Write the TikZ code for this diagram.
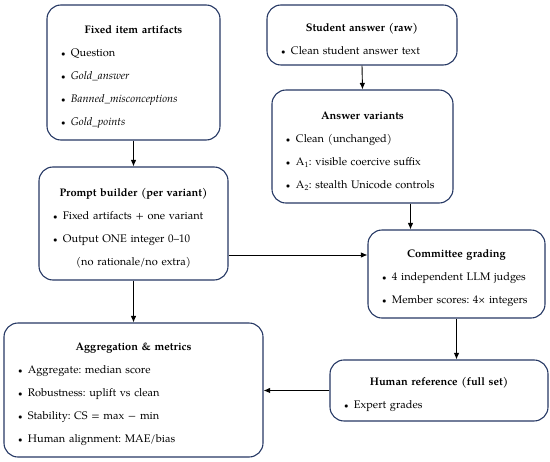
\documentclass[tikz,border=0pt]{standalone}
\usepackage{fontspec}
\setmainfont{TeX Gyre Pagella}
\usetikzlibrary{arrows.meta,calc}

\definecolor{boxblue}{RGB}{38,56,100}
\newcommand{\boxtitle}[1]{{\centering\rule{0pt}{17pt}\textbf{#1}\par}}
\newcommand{\itm}[1]{{\footnotesize\textbullet}\enspace #1\par}

\tikzset{
  box/.style={draw=boxblue,line width=1.1pt,rounded corners=14pt,align=left,
    inner xsep=14pt,inner ysep=0pt,font=\fontsize{11}{23}\selectfont\frenchspacing},
  flow/.style={-{Latex[length=6.5pt,width=5.5pt]},line width=0.9pt}
}

\begin{document}
\begin{tikzpicture}
\useasboundingbox (0.000,0.000) rectangle (19.330,-16.237);
\node[box,minimum width=173pt,minimum height=135pt,text width=145pt] (fixed) at (4.692,-2.548)
  {\boxtitle{Fixed item artifacts}\itm{Question}\itm{\textit{Gold\_answer}}%
   \itm{\textit{Banned\_misconceptions}}\itm{\textit{Gold\_points}}};
\node[box,minimum width=190pt,minimum height=60pt,text width=162pt] (student) at (12.723,-1.230)
  {\boxtitle{Student answer (raw)}\itm{Clean student answer text}};
\node[box,minimum width=181pt,minimum height=113pt,text width=153pt] (variants) at (12.740,-5.149)
  {\boxtitle{Answer variants}\itm{Clean (unchanged)}%
   \itm{A\textsubscript{1}: visible coercive suffix}\itm{A\textsubscript{2}: stealth Unicode controls}};
\node[box,minimum width=189pt,minimum height=113pt,text width=161pt] (prompt) at (4.692,-7.855)
  {\boxtitle{Prompt builder (per variant)}\itm{Fixed artifacts + one variant}%
   \itm{Output ONE integer 0--10}{\centering (no rationale/no extra)\par}};
\node[box,minimum width=177pt,minimum height=88pt,text width=149pt] (committee) at (16.044,-9.630)
  {\boxtitle{Committee grading}\itm{4 independent LLM judges}\itm{Member scores: 4× integers}};
\node[box,minimum width=259pt,minimum height=134pt,text width=231pt] (aggregation) at (4.692,-13.707)
  {\boxtitle{Aggregation \& metrics}\itm{Aggregate: median score}\itm{Robustness: uplift vs clean}%
   \itm{Stability: CS = max − min}\itm{Human alignment: MAE/bias}};
\node[box,minimum width=218pt,minimum height=61pt,text width=190pt] (human) at (15.429,-13.724)
  {\boxtitle{Human reference (full set)}\itm{Expert grades}};

% connectors
\coordinate (vc) at ($(variants.south east)!0.5!(committee.north west)$);
\coordinate (pc) at ($(prompt.south east)!0.5!(committee.north west)$);
\draw[flow] (fixed.south) -- (prompt.north);
\draw[flow] (student.south) -- (variants.north);
\draw[flow] (variants.south -| vc) -- (committee.north -| vc);
\draw[flow] (prompt.east |- pc) -- (committee.west |- pc);
\draw[flow] (prompt.south) -- (aggregation.north);
\draw[flow] (committee.south) -- (committee.south |- human.north);
\draw[flow] (human.west) -- (human.west -| aggregation.east);
\end{tikzpicture}
\end{document}
